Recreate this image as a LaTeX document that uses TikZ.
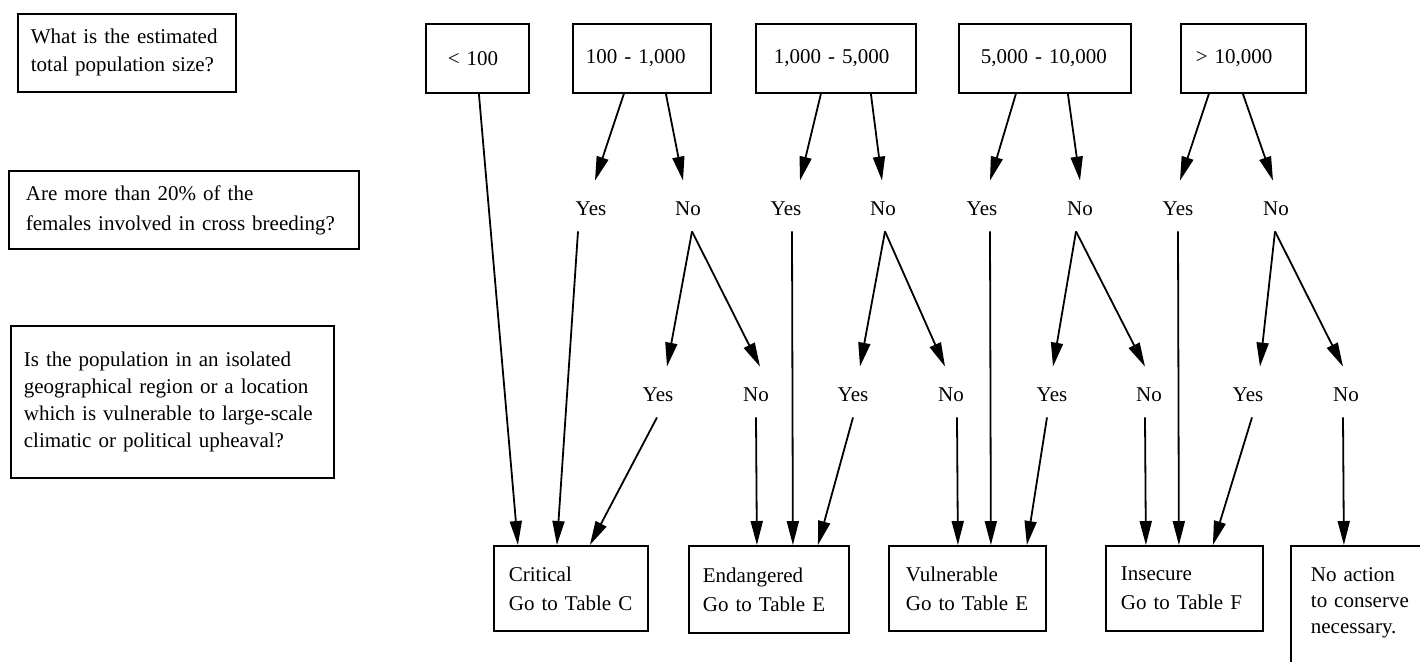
\documentclass[tikz,border=0pt]{standalone}
\usepackage{fontspec}
\setmainfont{Liberation Serif}
\usetikzlibrary{arrows.meta,calc}
\newcommand\myconn[4]{\draw[arr] ($(#1.south)+(#2,0)$) -- ($(#3.north)+(#4,0)$);}
\begin{document}
\begin{tikzpicture}[x=0.5pt,y=-0.5pt,
  fnt/.style={font=\fontsize{10.5pt}{14pt}\selectfont},
  box/.style={draw, line width=0.9pt, anchor=north west, align=left, inner sep=0pt, fnt},
  lbl/.style={fnt, text height=9pt, text depth=0pt, inner ysep=8pt, inner xsep=1pt, anchor=base},
  arr/.style={line width=0.9pt, -{Triangle[length=12pt,width=6pt]}}]
\fill[white] (0,0) rectangle (1420,661);
\useasboundingbox (0,0) rectangle (1420,661);
\clip (0,0) rectangle (1420,661);

% question boxes
\node[box, minimum width=109pt, minimum height=39pt, text width=96pt] (q1) at (17,13)
  {What is the estimated\\total population size?};
\node[box, minimum width=175pt, minimum height=39pt, text width=158pt, font=\fontsize{10.5pt}{15pt}\selectfont] (q2) at (8,170)
  {Are more than 20\% of the\\females involved in cross breeding?};
\node[box, minimum width=161.5pt, minimum height=76pt, text width=148.5pt, font=\fontsize{10.5pt}{13.5pt}\selectfont] (q3) at (10,325)
  {Is the population in an isolated\\geographical region or a location\\which is vulnerable to large-scale\\climatic or political upheaval?};

% population size boxes
\node[box, minimum width=51.5pt, minimum height=34.5pt, text width=29.5pt] (t1) at (425,23) {< 100};
\node[box, minimum width=69pt, minimum height=34.5pt, text width=56pt] (t2) at (572,23) {100 - 1,000};
\node[box, minimum width=80pt, minimum height=34.5pt, text width=62pt] (t3) at (755,23) {1,000 - 5,000};
\node[box, minimum width=86pt, minimum height=34.5pt, text width=64pt] (t4) at (958,23) {5,000 - 10,000};
\node[box, minimum width=62.5pt, minimum height=34.5pt, text width=47.5pt] (t5) at (1180,23) {> 10,000};

% outcome boxes
\node[box, minimum width=77pt, minimum height=42.5pt, text width=62pt, font=\fontsize{10.5pt}{14.5pt}\selectfont] (c1) at (493,545) {Critical\\Go to Table C};
\node[box, minimum width=80pt, minimum height=43.5pt, text width=66pt, font=\fontsize{10.5pt}{14.5pt}\selectfont] (c2) at (688,545) {Endangered\\Go to Table E};
\node[box, minimum width=78.5pt, minimum height=42.5pt, text width=61.5pt, font=\fontsize{10.5pt}{14.5pt}\selectfont] (c3) at (888,545) {Vulnerable\\Go to Table E};
\node[box, minimum width=78.5pt, minimum height=42.5pt, text width=63.5pt, font=\fontsize{10.5pt}{14.5pt}\selectfont] (c4) at (1105,545) {Insecure\\Go to Table F};
\node[box, minimum width=75pt, minimum height=67.5pt, text width=55pt, font=\fontsize{10.5pt}{13pt}\selectfont] (c5) at (1290,545) {No action\\to conserve\\necessary.\\\mbox{}};

% first level answers
\node[lbl] (y1a) at (591,215) {Yes};
\node[lbl] (n1a) at (688,215) {No};
\node[lbl] (y1b) at (786,215) {Yes};
\node[lbl] (n1b) at (883,215) {No};
\node[lbl] (y1c) at (982,215) {Yes};
\node[lbl] (n1c) at (1080,215) {No};
\node[lbl] (y1d) at (1178,215) {Yes};
\node[lbl] (n1d) at (1276,215) {No};

% second level answers
\node[lbl] (y2a) at (658,401) {Yes};
\node[lbl] (n2a) at (756,401) {No};
\node[lbl] (y2b) at (853,401) {Yes};
\node[lbl] (n2b) at (951,401) {No};
\node[lbl] (y2c) at (1052,401) {Yes};
\node[lbl] (n2c) at (1149,401) {No};
\node[lbl] (y2d) at (1248,401) {Yes};
\node[lbl] (n2d) at (1346,401) {No};

% connectors from size boxes
\myconn{t1}{1.5}{c1}{-53}
\myconn{t2}{-18}{y1a}{4}
\myconn{t2}{24}{n1a}{-5}
\myconn{t3}{-15}{y1b}{14}
\myconn{t3}{35}{n1b}{-1}
\myconn{t4}{-29}{y1c}{8}
\myconn{t4}{23}{n1c}{0}
\myconn{t5}{-34.5}{y1d}{2}
\myconn{t5}{-0.5}{n1d}{-3}

% connectors from first level
\myconn{y1a}{-13}{c1}{-14}
\myconn{n1a}{4}{y2a}{9}
\myconn{n1a}{4}{n2a}{4}
\myconn{y1b}{6}{c2}{24}
\myconn{n1b}{2}{y2b}{7}
\myconn{n1b}{2}{n2b}{-6}
\myconn{y1c}{8}{c3}{23.5}
\myconn{n1c}{-4}{y2c}{1}
\myconn{n1c}{-4}{n2c}{-4}
\myconn{y1d}{0}{c4}{-5.5}
\myconn{n1d}{-1}{y2d}{12}
\myconn{n1d}{-1}{n2d}{-3}

% connectors from second level
\myconn{y2a}{-1}{c1}{19}
\myconn{n2a}{0}{c2}{-12}
\myconn{y2b}{0}{c2}{49}
\myconn{n2b}{6}{c3}{-9.5}
\myconn{y2c}{-5}{c3}{59.5}
\myconn{n2c}{-4}{c4}{-38.5}
\myconn{y2d}{4}{c4}{28.5}
\myconn{n2d}{-3}{c5}{-22}
\end{tikzpicture}
\end{document}
